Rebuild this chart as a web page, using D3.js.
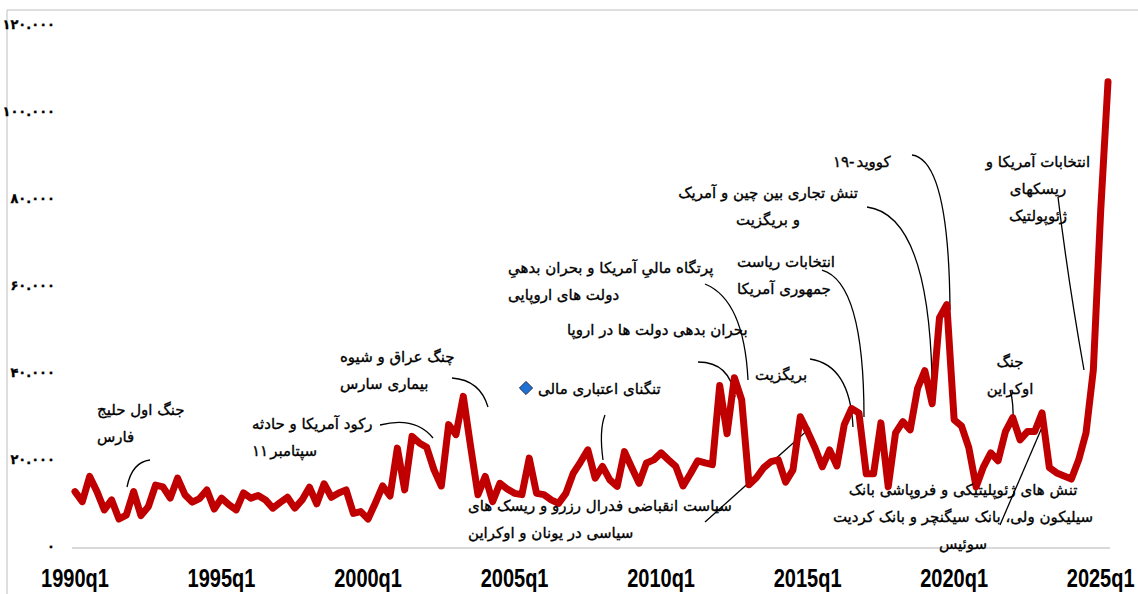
<!DOCTYPE html>
<html>
<head>
<meta charset="utf-8">
<script src="https://cdn.jsdelivr.net/npm/d3@7"></script>
<style>
  body { margin: 0; background: #fff; }
</style>
</head>
<body>
<div id="chart"></div>
<script>
var width = 1138, height = 594;

// quarterly series, 1990q1 .. 2025q2
var startYear = 1990;
var values = [
  12500, 10200, 16000, 12500, 8300, 10600, 6200, 7100, 12500, 7000,
  9000, 14000, 13600, 11000, 15600, 11800, 10100, 10900, 12900, 8500,
  11000, 9500, 8300, 12200, 11000, 11600, 10600, 8700, 10000, 11200,
  8700, 10600, 13500, 9700, 14300, 11200, 12200, 12900, 7500, 7900,
  6200, 9900, 13800, 11500, 22500, 12900, 25200, 23700, 22700, 17500,
  13800, 27900, 25600, 34400, 22900, 11800, 16000, 10200, 14400, 13100,
  12100, 11800, 20200, 12100, 11800, 10600, 9800, 12100, 16700, 19300,
  22100, 15600, 18300, 15200, 13700, 21700, 18000, 14400, 19100, 19800,
  21400, 19800, 18300, 13800, 16600, 19600, 19100, 18700, 36900, 25800,
  38700, 33600, 14100, 15700, 18000, 19400, 19800, 14700, 17500, 29700,
  26300, 22600, 18200, 22100, 18400, 27900, 31600, 30600, 16600, 16600,
  28300, 13600, 26000, 28600, 26700, 36200, 40300, 32700, 52500, 55500,
  29000, 27600, 22600, 13600, 18200, 21400, 19600, 26300, 29500, 24400,
  26300, 26300, 30600, 18000, 16800, 16100, 15400, 19800, 26000, 40500,
  77000, 106700
];
var quarters = values.map(function (d, i) {
  return (startYear + Math.floor(i / 4)) + "q" + (i % 4 + 1);
});
var yTicks = [0, 20000, 40000, 60000, 80000, 100000, 120000];
var xTickQuarters = ["1990q1", "1995q1", "2000q1", "2005q1", "2010q1", "2015q1", "2020q1", "2025q1"];

// annotation texts; a line given as a list is laid out piece by piece, left to right
var notes = [
  { lines: ["جنگ اول حلیج", "فارس"], align: "left" },
  { lines: ["رکود آمریکا و حادثه", ["۱۱", "سپتامبر"]], align: "left" },
  { lines: ["چنگ عراق و شیوه", "بیماری سارس"], align: "left" },
  { lines: ["تنگنای اعتباری مالی"], align: "left" },
  { lines: ["پرتگاه مالیِ آمریکا و بحران بدهیِ", "دولت های اروپایی"], align: "left" },
  { lines: ["بحران بدهی دولت ها در اروپا"], align: "left" },
  { lines: ["سیاست انقباضی فدرال رزرو و ریسک های", "سیاسی در یونان و اوکراین"], align: "left" },
  { lines: ["بریگزیت"], align: "left" },
  { lines: ["انتخابات ریاست", "جمهوری آمریکا"], align: "left" },
  { lines: ["تنش تجاری بین چین و آمریک", "و بریگزیت"], align: "middle" },
  { lines: [["۱۹-", "کووید"]], align: "left" },
  { lines: ["انتخابات آمریکا و", "ریسکهای", "ژئوپولتیک"], align: "middle" },
  { lines: ["جنگ", "اوکراین"], align: "middle" },
  { lines: ["تنش های ژئوپلیتیکی و فروپاشی بانک", "سیلیکون ولی، بانک سیگنچر و بانک کردیت", "سوئیس"], align: "middle" }
];
// where each note sits (x: left edge or centre, y: first line), and its leader
var notePos = [
  { x: 97, y: 410, lead: "M150,460 Q132,462 127,487" },
  { x: 252, y: 424, lead: "M380,425 Q415,416 433,438" },
  { x: 340, y: 357, lead: "M452,378 Q480,380 488,407" },
  { x: 538, y: 389, lead: "M605,415 Q599,430 603,460" },
  { x: 508, y: 268, lead: "M705,284 Q744,300 748,380" },
  { x: 567, y: 330, lead: "M698,362 Q730,362 735,397" },
  { x: 468, y: 506, lead: "M705,522 L810,428" },
  { x: 755, y: 375, lead: "M810,359 Q850,365 853,427" },
  { x: 737, y: 262, lead: "M822,270 Q864,282 864,417" },
  { x: 768, y: 193, lead: "M867,207 Q928,215 932,377" },
  { x: 833, y: 162, lead: "M912,155 Q949,160 950,310" },
  { x: 1038, y: 162, lead: "M1058,197 Q1068,280 1084,370" },
  { x: 1010, y: 362, lead: "M1010,390 Q1014,402 1013,427" },
  { x: 963, y: 490, lead: "M1000,525 L1043,425" }
];
var lineGap = 27;

var svg = d3.select("#chart")
  .append("svg")
  .attr("width", width)
  .attr("height", height);

// frame
svg.append("line").attr("x1", 7).attr("x2", 7).attr("y1", 10).attr("y2", height)
  .attr("stroke", "#bfbfbf").attr("stroke-width", 1);
svg.append("line").attr("x1", 7).attr("x2", width).attr("y1", 10).attr("y2", 10)
  .attr("stroke", "#bfbfbf").attr("stroke-width", 1);

var x = d3.scaleLinear()
  .domain([0, values.length - 1])
  .range([75, 1108]);
var y = d3.scaleLinear()
  .domain([0, 120000])
  .range([546, 24]);

var fa = d3.formatLocale({
  decimal: "/", thousands: ".", grouping: [3], currency: ["", ""],
  numerals: ["۰", "۱", "۲", "۳", "۴", "۵", "۶", "۷", "۸", "۹"]
});
var fmt = fa.format(",d");

// y labels
svg.selectAll(".ylab")
  .data(yTicks)
  .enter()
  .append("text")
  .attr("class", "ylab")
  .attr("x", 55)
  .attr("y", function (d) { return y(d); })
  .attr("dy", ".35em")
  .attr("text-anchor", "end")
  .attr("font-family", "DejaVu Sans")
  .attr("font-weight", "bold")
  .attr("font-size", 13)
  .attr("fill", "#000")
  .attr("stroke", "#000")
  .attr("stroke-width", 0.3)
  .text(function (d) { return fmt(d); });

// baseline
svg.append("line")
  .attr("x1", 72).attr("x2", 1110)
  .attr("y1", y(0) + 2).attr("y2", y(0) + 2)
  .attr("stroke", "#d9d9d9").attr("stroke-width", 2);

// x labels, squeezed to look like a narrow bold face
svg.selectAll(".xlab")
  .data(xTickQuarters)
  .enter()
  .append("text")
  .attr("class", "xlab")
  .attr("transform", function (d) {
    return "translate(" + x(quarters.indexOf(d)) + ",578) scale(0.8,1)";
  })
  .attr("dy", ".35em")
  .attr("text-anchor", "middle")
  .attr("font-family", "'Liberation Sans', Arial, sans-serif")
  .attr("font-weight", "bold")
  .attr("font-size", 25)
  .attr("fill", "#000")
  .text(function (d) { return d; });

// leaders
svg.selectAll(".lead")
  .data(notePos)
  .enter()
  .append("path")
  .attr("class", "lead")
  .attr("d", function (d) { return d.lead; })
  .attr("fill", "none")
  .attr("stroke", "#000")
  .attr("stroke-width", 1.3);

// series line
var line = d3.line()
  .x(function (d, i) { return x(i); })
  .y(function (d) { return y(d); });

svg.append("path")
  .datum(values)
  .attr("d", line)
  .attr("fill", "none")
  .attr("stroke", "#c00000")
  .attr("stroke-width", 7)
  .attr("stroke-linejoin", "round")
  .attr("stroke-linecap", "round");

// notes
notes.forEach(function (n, k) {
  var p = notePos[k];
  n.lines.forEach(function (t, j) {
    var parts = Array.isArray(t) ? t : [t];
    var els = parts.map(function (s) {
      return svg.append("text")
        .attr("y", p.y + j * lineGap)
        .attr("dy", ".35em")
        .attr("text-anchor", "start")
        .attr("font-family", "DejaVu Sans")
        .attr("font-size", 15)
        .attr("fill", "#000")
        .attr("stroke", "#000")
        .attr("stroke-width", 0.35)
        .text(s);
    });
    var ws = els.map(function (e) { return e.node().getComputedTextLength(); });
    var gap = 2;
    var total = d3.sum(ws) + gap * (ws.length - 1);
    var cx = n.align === "left" ? p.x : p.x - total / 2;
    els.forEach(function (e, m) {
      e.attr("x", cx);
      cx += ws[m] + gap;
    });
  });
});

// diamond marker next to the credit crunch note
svg.append("path")
  .attr("d", d3.symbol().type(d3.symbolDiamond2).size(110))
  .attr("transform", "translate(526,388)")
  .attr("fill", "#1f72d4")
  .attr("stroke", "#1a2a4a")
  .attr("stroke-width", 1);
</script>
</body>
</html>
